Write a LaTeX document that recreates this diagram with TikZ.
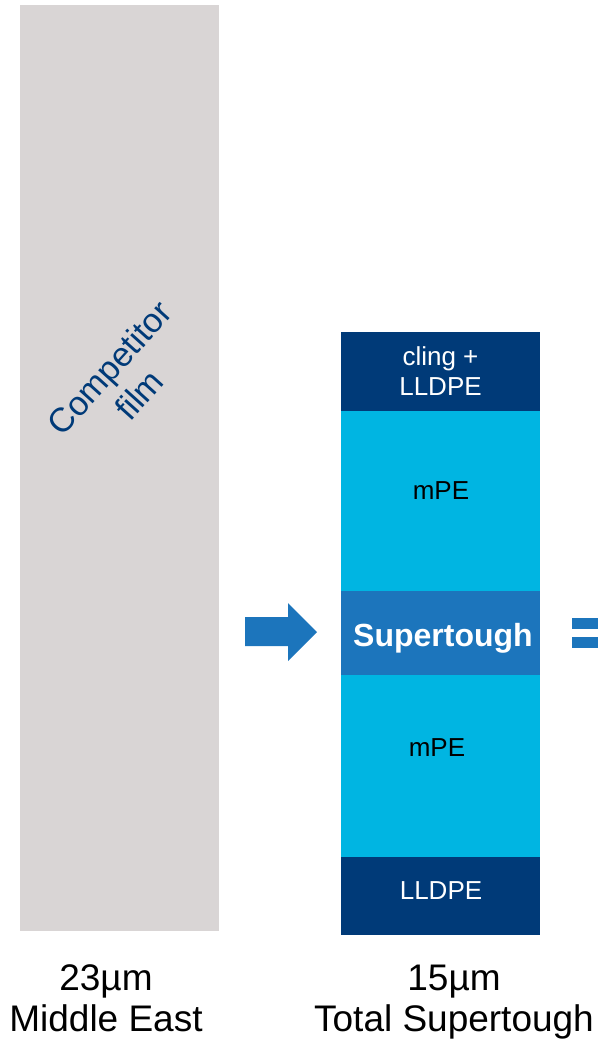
\documentclass[tikz,border=0pt]{standalone}
\usepackage{fontspec}
\setmainfont{Liberation Sans}
\definecolor{filmgray}{RGB}{217,213,213}
\definecolor{navy}{RGB}{0,58,120}
\definecolor{cyanlayer}{RGB}{0,181,226}
\definecolor{stblue}{RGB}{28,117,188}
\tikzset{
  layer/.style={draw=none, inner sep=0pt, minimum width=199pt, align=center, text=white,
    font=\fontsize{26}{30}\selectfont},
  navylayer/.style={layer, fill=navy},
  cyanbox/.style={layer, fill=cyanlayer, text=black},
  label/.style={align=center, inner sep=0pt, font=\fontsize{37}{41}\selectfont, text=black},
}
\begin{document}
\begin{tikzpicture}[x=1pt,y=-1pt]
\useasboundingbox (0,0) rectangle (598,1043);
% competitor film
\node[fill=filmgray, inner sep=0pt, minimum width=199pt, minimum height=926pt] (film) at (119.5,468) {};
\node[rotate=48, align=center, text=navy, inner sep=0pt, font=\fontsize{34}{40}\selectfont] (filmtext) at (124,381) {Competitor\\film};
% arrow
\fill[stblue] (245,617) -- (288,617) -- (288,603) -- (317,632) -- (288,661) -- (288,646) -- (245,646) -- cycle;
% stack
\node[navylayer, minimum height=79pt] (cling) at (440.5,371.5) {cling +\\LLDPE};
\node[cyanbox, minimum height=180pt] (mpetop) at (440.5,501) {};
\node[text=black, font=\fontsize{26}{30}\selectfont, inner sep=0pt] (mpetoptext) at (441,491) {mPE};
\node[layer, fill=stblue, minimum height=84pt] (super) at (440.5,633) {};
\node[text=white, inner sep=0pt, anchor=base, font=\bfseries\fontsize{32}{36}\selectfont] (supertext) at (443,646) {Supertough};
\node[cyanbox, minimum height=182pt] (mpebot) at (440.5,766) {};
\node[text=black, font=\fontsize{26}{30}\selectfont, inner sep=0pt] (mpebottext) at (437,748) {mPE};
\node[navylayer, minimum height=78pt] (lldpe) at (440.5,896) {};
\node[text=white, font=\fontsize{26}{30}\selectfont, inner sep=0pt] (lldpetext) at (441,891) {LLDPE};
% equals
\fill[stblue] (572,618) rectangle (598,629);
\fill[stblue] (572,637) rectangle (598,648);
% labels
\node[label, anchor=base] (left1) at (106,990) {23µm};
\node[label, anchor=base] (left2) at (106,1031) {Middle East};
\node[label, anchor=base] (right1) at (454,990) {15µm};
\node[label, anchor=base] (right2) at (454,1031) {Total Supertough};
\end{tikzpicture}
\end{document}
